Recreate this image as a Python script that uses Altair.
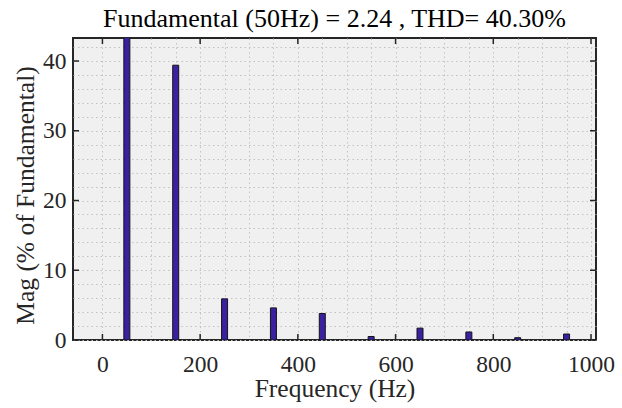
import altair as alt
import pandas as pd

freqs = [50, 150, 250, 350, 450, 550, 650, 750, 850, 950]
mags = [100.0, 39.4, 5.9, 4.6, 3.8, 0.5, 1.7, 1.15, 0.33, 0.86]

x_major = [0, 200, 400, 600, 800, 1000]
y_major = [0, 10, 20, 30, 40]
x_grid = list(range(0, 1001, 50))
y_grid = list(range(0, 43, 2))

X_DOMAIN = [-50, 1000]
Y_DOMAIN = [0, 43.3]

W, H = 523, 302
FONT = "Liberation Serif"
INK = "#262626"

bars_df = pd.DataFrame({"f": freqs, "m": mags})
xt_df = pd.DataFrame({"f": x_major})
yt_df = pd.DataFrame({"m": y_major})

xscale = alt.Scale(domain=X_DOMAIN, nice=False, zero=False)
yscale = alt.Scale(domain=Y_DOMAIN, nice=False, zero=False)

xaxis = alt.Axis(values=x_grid, format="d",
                 labelExpr="datum.value % 200 == 0 ? datum.label : ''",
                 ticks=False, grid=True, gridDash=[1.5, 3],
                 gridColor="#c2c2c2", gridWidth=1,
                 domain=False, labelPadding=12, titlePadding=1,
                 labelFlush=False)
yaxis = alt.Axis(values=y_grid, format="d",
                 labelExpr="datum.value % 10 == 0 ? datum.label : ''",
                 ticks=False, grid=True, gridDash=[1.5, 3],
                 gridColor="#c2c2c2", gridWidth=1,
                 domain=False, labelPadding=7, titlePadding=4,
                 titleY=H / 2 + 6)

XT = "Frequency (Hz)"
YT = "Mag (% of Fundamental)"

bars = alt.Chart(bars_df).mark_bar(
    size=6, color="#3b21a2", stroke="#141414", strokeWidth=1, clip=True
).encode(
    x=alt.X("f:Q", scale=xscale, title=XT, axis=xaxis),
    y=alt.Y("m:Q", scale=yscale, title=YT, axis=yaxis),
)

xt_bottom = alt.Chart(xt_df).mark_rule(color=INK, strokeWidth=1.5).encode(
    x=alt.X("f:Q", scale=xscale, title=XT, axis=xaxis),
    y=alt.value(H), y2=alt.value(H - 6))
xt_top = alt.Chart(xt_df).mark_rule(color=INK, strokeWidth=1.5).encode(
    x=alt.X("f:Q", scale=xscale, title=XT, axis=xaxis),
    y=alt.value(0), y2=alt.value(6))
yt_left = alt.Chart(yt_df).mark_rule(color=INK, strokeWidth=1.5).encode(
    y=alt.Y("m:Q", scale=yscale, title=YT, axis=yaxis),
    x=alt.value(0), x2=alt.value(6))
yt_right = alt.Chart(yt_df).mark_rule(color=INK, strokeWidth=1.5).encode(
    y=alt.Y("m:Q", scale=yscale, title=YT, axis=yaxis),
    x=alt.value(W), x2=alt.value(W - 6))

chart = alt.layer(bars, xt_bottom, xt_top, yt_left, yt_right).properties(
    width=W, height=H,
    background="white",
    title=alt.Title("Fundamental (50Hz) = 2.24 , THD= 40.30%",
                    font=FONT, fontSize=26, fontWeight="normal",
                    color="#000000", offset=5),
    autosize=alt.AutoSizeParams(type="none"),
    padding={"left": 73, "top": 38, "right": 26, "bottom": 68},
).configure_view(
    fill="#f0f0f0", stroke=INK, strokeWidth=2
).configure_axis(
    labelFont=FONT, labelFontSize=23.5, labelColor="#262626",
    titleFont=FONT, titleFontSize=25.5, titleFontWeight="normal",
    titleColor="#262626"
)

chart.save("out.html", embed_options={"renderer": "svg", "actions": False})
